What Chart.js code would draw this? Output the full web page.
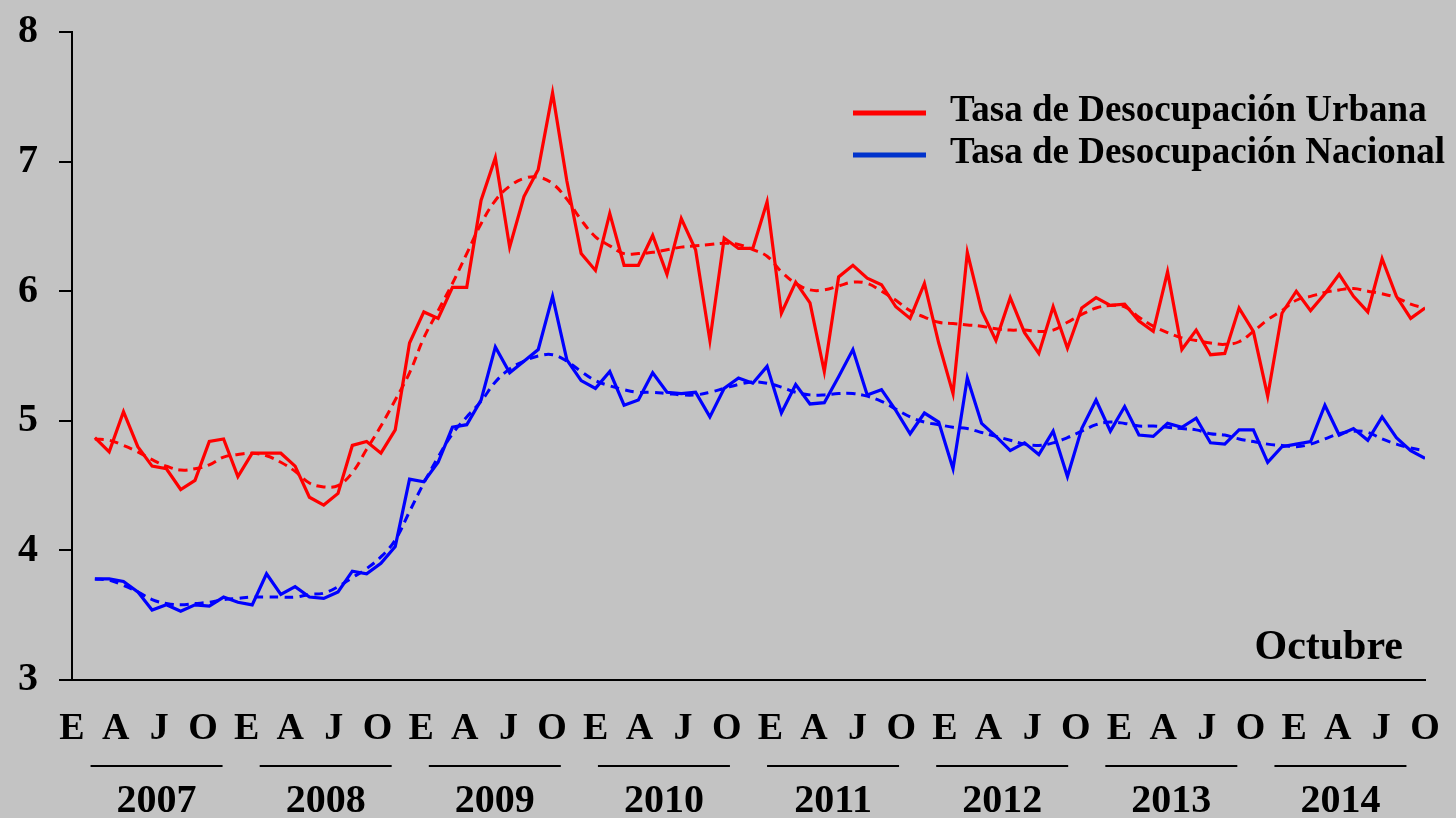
<!DOCTYPE html>
<html lang="es">
<head>
<meta charset="utf-8">
<title>Tasa de Desocupación Urbana y Nacional</title>
<script src="https://cdn.jsdelivr.net/npm/chart.js@4.4.1/dist/chart.umd.min.js"></script>
<style>
  html, body { margin: 0; padding: 0; background: #c3c3c3; }
  #wrap { width: 1456px; height: 818px; position: relative; }
</style>
</head>
<body>
<div id="wrap"><canvas id="chart"></canvas></div>
<script>
// Datos mensuales, enero 2007 - octubre 2014 (%)
const years = ["2007", "2008", "2009", "2010", "2011", "2012", "2013", "2014"];
const monthNames = ["Ene", "Feb", "Mar", "Abr", "May", "Jun", "Jul", "Ago", "Sep", "Oct", "Nov", "Dic"];
const quarterLetters = ["E", "A", "J", "O"];
const yTicks = [3, 4, 5, 6, 7, 8];

const urbana = [
    4.87, 4.76, 5.07, 4.80, 4.65, 4.63, 4.47, 4.54, 4.84, 4.86, 4.57, 4.75,
    4.75, 4.75, 4.65, 4.41, 4.35, 4.44, 4.81, 4.84, 4.75, 4.93, 5.60, 5.84,
    5.79, 6.03, 6.03, 6.70, 7.03, 6.34, 6.73, 6.94, 7.53, 6.85, 6.29, 6.16,
    6.60, 6.20, 6.20, 6.43, 6.13, 6.56, 6.32, 5.62, 6.41, 6.33, 6.33, 6.69,
    5.83, 6.07, 5.91, 5.38, 6.11, 6.20, 6.10, 6.05, 5.88, 5.79, 6.06, 5.60,
    5.21, 6.30, 5.85, 5.62, 5.95, 5.68, 5.52, 5.88, 5.56, 5.87, 5.95, 5.89,
    5.90, 5.77, 5.69, 6.15, 5.55, 5.70, 5.51, 5.52, 5.87, 5.69, 5.19, 5.83,
    6.00, 5.85, 5.98, 6.13, 5.96, 5.84, 6.25, 5.96, 5.79, 5.87
];
const nacional = [
    3.78, 3.78, 3.76, 3.68, 3.54, 3.58, 3.53, 3.58, 3.57, 3.64, 3.60, 3.58,
    3.82, 3.66, 3.72, 3.64, 3.63, 3.68, 3.84, 3.82, 3.90, 4.03, 4.55, 4.53,
    4.68, 4.95, 4.97, 5.16, 5.57, 5.37, 5.46, 5.55, 5.96, 5.47, 5.31, 5.25,
    5.38, 5.12, 5.16, 5.37, 5.22, 5.21, 5.22, 5.03, 5.25, 5.33, 5.29, 5.42,
    5.06, 5.28, 5.13, 5.14, 5.34, 5.55, 5.20, 5.24, 5.08, 4.90, 5.06, 4.99,
    4.63, 5.33, 4.98, 4.88, 4.77, 4.83, 4.74, 4.92, 4.57, 4.94, 5.16, 4.92,
    5.11, 4.89, 4.88, 4.98, 4.95, 5.02, 4.83, 4.82, 4.93, 4.93, 4.68, 4.80,
    4.82, 4.84, 5.12, 4.89, 4.94, 4.85, 5.03, 4.87, 4.77, 4.71
];
// tendencias (líneas punteadas)
const urbanaTend = [
    4.86, 4.85, 4.81, 4.76, 4.70, 4.65, 4.62, 4.63, 4.66, 4.72, 4.74, 4.75,
    4.73, 4.68, 4.61, 4.52, 4.49, 4.50, 4.60, 4.78, 4.96, 5.16, 5.37, 5.64,
    5.85, 6.06, 6.29, 6.52, 6.70, 6.81, 6.87, 6.88, 6.83, 6.71, 6.55, 6.42,
    6.35, 6.29, 6.29, 6.30, 6.32, 6.34, 6.35, 6.36, 6.37, 6.36, 6.32, 6.27,
    6.15, 6.06, 6.01, 6.01, 6.04, 6.07, 6.06, 6.00, 5.93, 5.85, 5.80, 5.76,
    5.75, 5.74, 5.73, 5.71, 5.70, 5.70, 5.69, 5.70, 5.76, 5.82, 5.87, 5.89,
    5.88, 5.80, 5.73, 5.68, 5.64, 5.62, 5.60, 5.59, 5.61, 5.69, 5.78, 5.85,
    5.93, 5.96, 5.99, 6.01, 6.02, 6.00, 5.98, 5.95, 5.90, 5.87
];
const nacionalTend = [
    3.78, 3.77, 3.73, 3.68, 3.62, 3.59, 3.58, 3.59, 3.60, 3.62, 3.63, 3.64,
    3.64, 3.64, 3.64, 3.66, 3.67, 3.72, 3.79, 3.86, 3.95, 4.08, 4.30, 4.52,
    4.72, 4.90, 5.03, 5.15, 5.30, 5.40, 5.46, 5.50, 5.51, 5.46, 5.38, 5.31,
    5.27, 5.24, 5.22, 5.22, 5.21, 5.20, 5.20, 5.22, 5.25, 5.28, 5.30, 5.29,
    5.26, 5.22, 5.20, 5.20, 5.21, 5.21, 5.19, 5.15, 5.09, 5.03, 4.99, 4.97,
    4.95, 4.94, 4.91, 4.88, 4.85, 4.82, 4.81, 4.83, 4.87, 4.92, 4.97, 4.99,
    4.98, 4.96, 4.96, 4.95, 4.94, 4.93, 4.90, 4.89, 4.86, 4.84, 4.82, 4.81,
    4.80, 4.82, 4.86, 4.90, 4.92, 4.91, 4.86, 4.82, 4.79, 4.77
];

// etiquetas de mes (para el tooltip) y letras trimestrales del eje
const categories = [];
years.forEach(y => monthNames.forEach(m => categories.push(m + " " + y)));
categories.length = urbana.length;
const letterLabels = [];
years.forEach(() => quarterLetters.forEach(l => letterLabels.push(l)));

const SERIF = '"Liberation Serif", "Times New Roman", serif';
const RED = "#ff0000";
const BLUE = "#0000ff";

function toPoints(arr) {
    return arr.map((v, i) => ({ x: i, y: v }));
}

// quita el relleno automático que Chart.js reserva para las etiquetas extremas
function noEdgePadding(s) {
    s.paddingTop = 0;
    s.paddingBottom = 0;
    s.paddingLeft = 0;
    s.paddingRight = 0;
}

// fondo gris, subrayado de años, texto "Octubre" y leyenda
const decoraciones = {
    id: "decoraciones",
    beforeDraw(chart) {
        const ctx = chart.ctx;
        ctx.save();
        ctx.fillStyle = "#c3c3c3";
        ctx.fillRect(0, 0, chart.width, chart.height);
        ctx.restore();
    },
    afterDraw(chart) {
        const ctx = chart.ctx;
        const area = chart.chartArea;
        const ys = chart.scales.anios;
        ctx.save();

        ctx.strokeStyle = "#000";
        ctx.lineWidth = 2;
        years.forEach((y, i) => {
            const cx = ys.getPixelForTick(i);
            ctx.beginPath();
            ctx.moveTo(cx - 66, ys.top + 6);
            ctx.lineTo(cx + 66, ys.top + 6);
            ctx.stroke();
        });

        ctx.fillStyle = "#000";
        ctx.font = "bold 42px " + SERIF;
        ctx.textAlign = "right";
        ctx.textBaseline = "middle";
        ctx.fillText("Octubre", area.right - 22, area.bottom - 32);

        const items = [
            { text: chart.data.datasets[0].label, color: RED, y: 113 },
            { text: chart.data.datasets[1].label, color: "#0033cc", y: 155 }
        ];
        ctx.font = "bold 37px " + SERIF;
        ctx.textAlign = "left";
        ctx.textBaseline = "alphabetic";
        items.forEach(it => {
            ctx.strokeStyle = it.color;
            ctx.lineWidth = 5;
            ctx.beginPath();
            ctx.moveTo(853, it.y);
            ctx.lineTo(926, it.y);
            ctx.stroke();
            ctx.fillStyle = "#000";
            ctx.fillText(it.text, 950, it.y + 8);
        });
        ctx.restore();
    }
};

new Chart(document.getElementById("chart"), {
    type: "line",
    data: {
        datasets: [
            { label: "Tasa de Desocupación Urbana", data: toPoints(urbana), borderColor: RED, borderWidth: 3.2, pointRadius: 0, tension: 0, xAxisID: "x", yAxisID: "y" },
            { label: "Tasa de Desocupación Nacional", data: toPoints(nacional), borderColor: BLUE, borderWidth: 3.2, pointRadius: 0, tension: 0, xAxisID: "x", yAxisID: "y" },
            { label: "Tendencia Urbana", data: toPoints(urbanaTend), borderColor: RED, borderWidth: 3, borderDash: [9, 6], pointRadius: 0, tension: 0.4, xAxisID: "x", yAxisID: "y" },
            { label: "Tendencia Nacional", data: toPoints(nacionalTend), borderColor: BLUE, borderWidth: 3, borderDash: [9, 6], pointRadius: 0, tension: 0.4, xAxisID: "x", yAxisID: "y" }
        ]
    },
    options: {
        responsive: true,
        maintainAspectRatio: false,
        animation: false,
        layout: { padding: { top: 32, right: 31, left: 0, bottom: 0 } },
        plugins: {
            legend: { display: false },
            tooltip: {
                callbacks: { title: items => categories[items[0].parsed.x] }
            }
        },
        scales: {
            x: {
                type: "linear",
                position: "bottom",
                weight: 0,
                min: -1.6,
                max: urbana.length - 1,
                ticks: { display: false },
                grid: { display: false, drawTicks: false },
                border: { display: true, color: "#000", width: 2 },
                afterFit: s => { s.height = 2; noEdgePadding(s); }
            },
            letras: {
                type: "category",
                position: "bottom",
                weight: 1,
                labels: letterLabels,
                offset: false,
                grid: { display: false, drawTicks: false },
                border: { display: false },
                ticks: {
                    autoSkip: false, maxRotation: 0, color: "#000", padding: 24,
                    font: { family: SERIF, size: 38, weight: "bold" }
                },
                afterFit: s => { s.height = 78; noEdgePadding(s); }
            },
            anios: {
                type: "category",
                position: "bottom",
                weight: 2,
                labels: years,
                offset: true,
                grid: { display: false, drawTicks: false },
                border: { display: false },
                ticks: {
                    autoSkip: false, maxRotation: 0, color: "#000", padding: 18,
                    font: { family: SERIF, size: 40, weight: "bold" }
                },
                afterFit: s => { s.height = 58; noEdgePadding(s); }
            },
            y: {
                min: yTicks[0],
                max: yTicks[yTicks.length - 1],
                afterBuildTicks: s => { s.ticks = yTicks.map(v => ({ value: v })); },
                ticks: {
                    color: "#000", padding: 21,
                    font: { family: SERIF, size: 40, weight: "bold" }
                },
                grid: { drawOnChartArea: false, drawTicks: true, tickLength: 13, color: "#000", lineWidth: 2 },
                border: { color: "#000", width: 2 },
                afterFit: s => { s.width = 72; noEdgePadding(s); }
            }
        }
    },
    plugins: [decoraciones]
});
</script>
</body>
</html>
